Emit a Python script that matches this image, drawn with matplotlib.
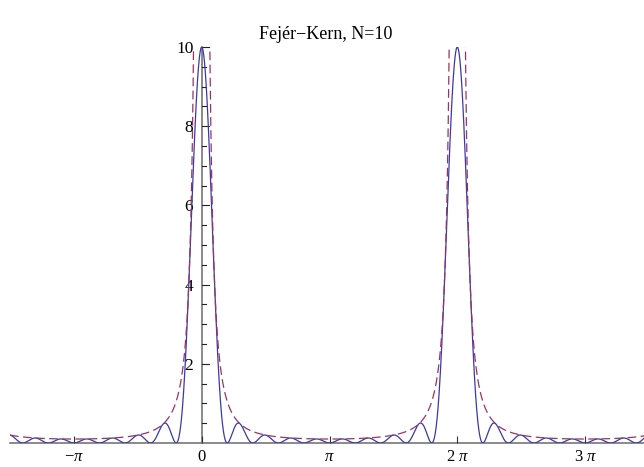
import numpy as np
import matplotlib
matplotlib.use("Agg")
import matplotlib.pyplot as plt
from matplotlib.ticker import MultipleLocator

# Fejer kernel of order N (the function named in the title)
N = 10
x_min = -1.5 * np.pi
x_max = 3.5 * np.pi
x_ticks = [-np.pi, 0, np.pi, 2 * np.pi, 3 * np.pi]
x_tick_labels = [r"$-\pi$", r"$0$", r"$\pi$", r"$2\ \pi$", r"$3\ \pi$"]
y_ticks = [2, 4, 6, 8, 10]

x = np.linspace(x_min, x_max, 4000)
s = np.sin(x / 2)
s[np.abs(s) < 1e-9] = 1e-9
kernel = (np.sin(N * x / 2) / s) ** 2 / N
envelope = 1 / (N * s ** 2)

plt.rcParams["font.family"] = ["Liberation Serif", "DejaVu Serif"]
plt.rcParams["mathtext.fontset"] = "custom"
plt.rcParams["mathtext.rm"] = "Liberation Serif"
plt.rcParams["mathtext.it"] = "Liberation Serif:italic"

fig = plt.figure(figsize=(6.44, 4.67), dpi=100)
ax = fig.add_axes([10 / 644, 1 - 443 / 467, 639 / 644, 396 / 467])

ax.plot(x, kernel, color="#3a3aa6", lw=0.9)
ax.plot(x, envelope, color="#993366", lw=0.9, dashes=(7, 3.5))

ax.set_xlim(x_min, x_max)
ax.set_ylim(0, 10)

for side in ["top", "right"]:
    ax.spines[side].set_visible(False)
ax.spines["left"].set_position(("data", 0))
ax.spines["bottom"].set_position(("data", 0))
for side in ["left", "bottom"]:
    ax.spines[side].set_color("#777777")
    ax.spines[side].set_linewidth(1.2)
    ax.spines[side].set_zorder(0)

ax.set_xticks(x_ticks)
ax.set_xticklabels(x_tick_labels)
ax.set_yticks(y_ticks)
ax.yaxis.set_minor_locator(MultipleLocator(0.5))
ax.tick_params(axis="x", direction="in", length=5, width=0.8, color="#333333",
               labelsize=12, pad=4)
ax.tick_params(axis="y", which="major", direction="out", length=0,
               labelsize=12.5, pad=6)
ax.tick_params(axis="y", which="minor", direction="out", length=0)

# y ticks drawn to the right of the axis, like the original
for yv in np.arange(0.5, 10.01, 0.5):
    major = abs(yv - round(yv / 2) * 2) < 1e-9
    ln = 0.17 if major else 0.10
    ax.plot([0, ln], [yv, yv], color="#222222", lw=0.8, clip_on=False, zorder=1)

ax.set_title("Fej\u00e9r\u2212Kern, N=10", fontsize=13, pad=6)
ax.title.set_position((0.5 - 4 / 639, 1))

fig.savefig("out.png", dpi=100)
